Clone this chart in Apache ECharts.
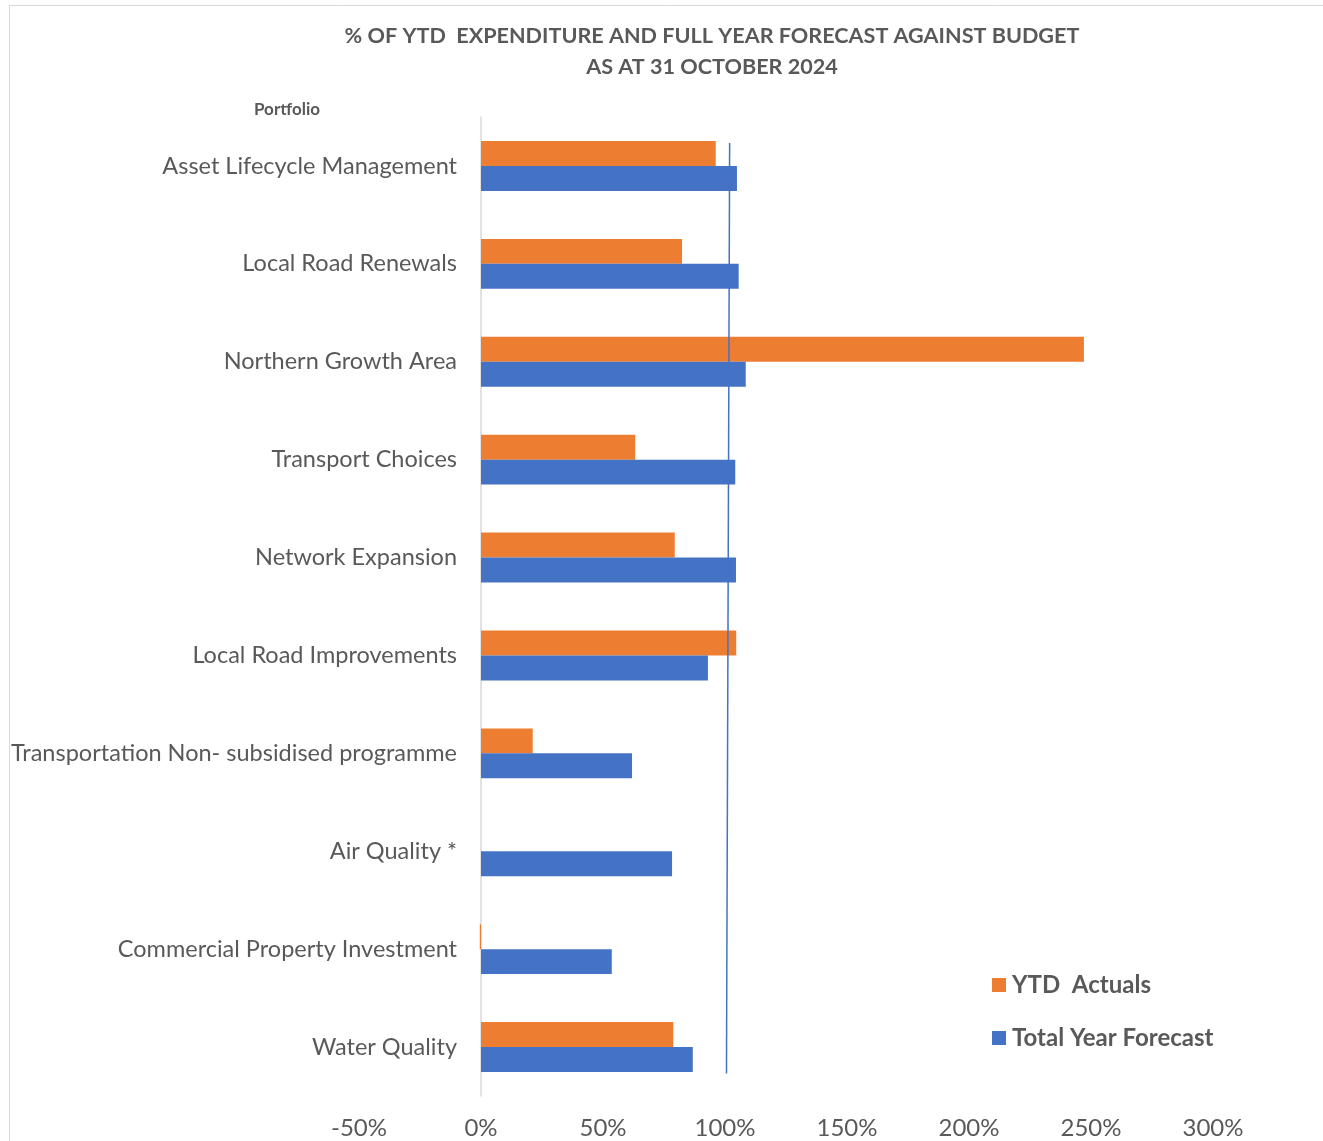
<!DOCTYPE html>
<html>
<head>
<meta charset="utf-8">
<script src="https://cdn.jsdelivr.net/npm/echarts@6/dist/echarts.min.js"></script>
<style>html,body{margin:0;padding:0;background:#fff;}#c{width:1323px;height:1141px;}</style>
</head>
<body>
<div id="c"></div>
<script>
const categories = ['Asset Lifecycle Management','Local Road Renewals','Northern Growth Area','Transport Choices','Network Expansion','Local Road Improvements','Transportation Non- subsidised programme','Air Quality *','Commercial Property Investment','Water Quality'];
const ytdActuals = [96.2, 82.4, 247.1, 63.2, 79.4, 104.6, 21.2, 0, -0.5, 78.8];
const totalYearForecast = [104.9, 105.6, 108.5, 104.2, 104.5, 93.0, 61.9, 78.3, 53.6, 86.8];
const xTicks = [-50, 0, 50, 100, 150, 200, 250, 300];
// reference line (value %, position in category bands from top)
const refLine = [[101.9, 0.265], [100.6, 9.77]];

const chart = echarts.init(document.getElementById('c'));
const font = 'Lato, "Open Sans", sans-serif';
chart.setOption({
  animation: false,
  backgroundColor: '#fff',
  graphic: [{
    type: 'rect', shape: {x: 9.5, y: 5.5, width: 1400, height: 1200},
    style: {fill: 'none', stroke: '#D9D9D9', lineWidth: 1}, silent: true, z: -10
  }],
  title: [{
    text: '% OF YTD  EXPENDITURE AND FULL YEAR FORECAST AGAINST BUDGET\nAS AT 31 OCTOBER 2024',
    left: 707, top: 16, textAlign: 'center',
    textStyle: {fontFamily: font, fontWeight: 'bold', fontSize: 21.6, color: '#595959', lineHeight: 31}
  }, {
    text: 'Portfolio', left: 282, top: 96, textAlign: 'center',
    textStyle: {fontFamily: font, fontWeight: 'bold', fontSize: 17, color: '#595959'}
  }],
  legend: {
    orient: 'vertical', left: 992, top: 973, padding: 0, itemWidth: 14, itemHeight: 14, itemGap: 29,
    icon: 'rect',
    textStyle: {fontFamily: font, fontWeight: 'bold', fontSize: 24, color: '#595959', padding: [0, 0, 0, 1]},
    data: ['YTD  Actuals', 'Total Year Forecast']
  },
  grid: {left: 359, right: 110, top: 117, bottom: 45, containLabel: false, outerBoundsMode: 'none'},
  xAxis: {
    type: 'value', min: -50, max: 300, interval: 50,
    axisLine: {show: false}, axisTick: {show: false}, splitLine: {show: false},
    axisLabel: {formatter: v => v + '%', fontFamily: font, fontSize: 24, color: '#595959', margin: 20}
  },
  yAxis: [{
    type: 'category', data: categories, inverse: true,
    axisLine: {show: true, lineStyle: {color: '#D9D9D9', width: 1.5}},
    axisTick: {show: false},
    axisLabel: {fontFamily: font, fontSize: 23.5, color: '#595959', margin: -98}
  }, {
    type: 'value', min: 0, max: 10, inverse: true, show: false
  }],
  series: [{
    name: 'YTD  Actuals', type: 'bar', data: ytdActuals,
    itemStyle: {color: '#ED7D31'}, barGap: '0%', barCategoryGap: '49%'
  }, {
    name: 'Total Year Forecast', type: 'bar', data: totalYearForecast,
    itemStyle: {color: '#4472C4'}, barGap: '0%', barCategoryGap: '49%'
  }, {
    type: 'line', yAxisIndex: 1, data: refLine, symbol: 'none',
    lineStyle: {color: '#4472C4', width: 1.5}, silent: true, z: 5
  }]
});
</script>
</body>
</html>
